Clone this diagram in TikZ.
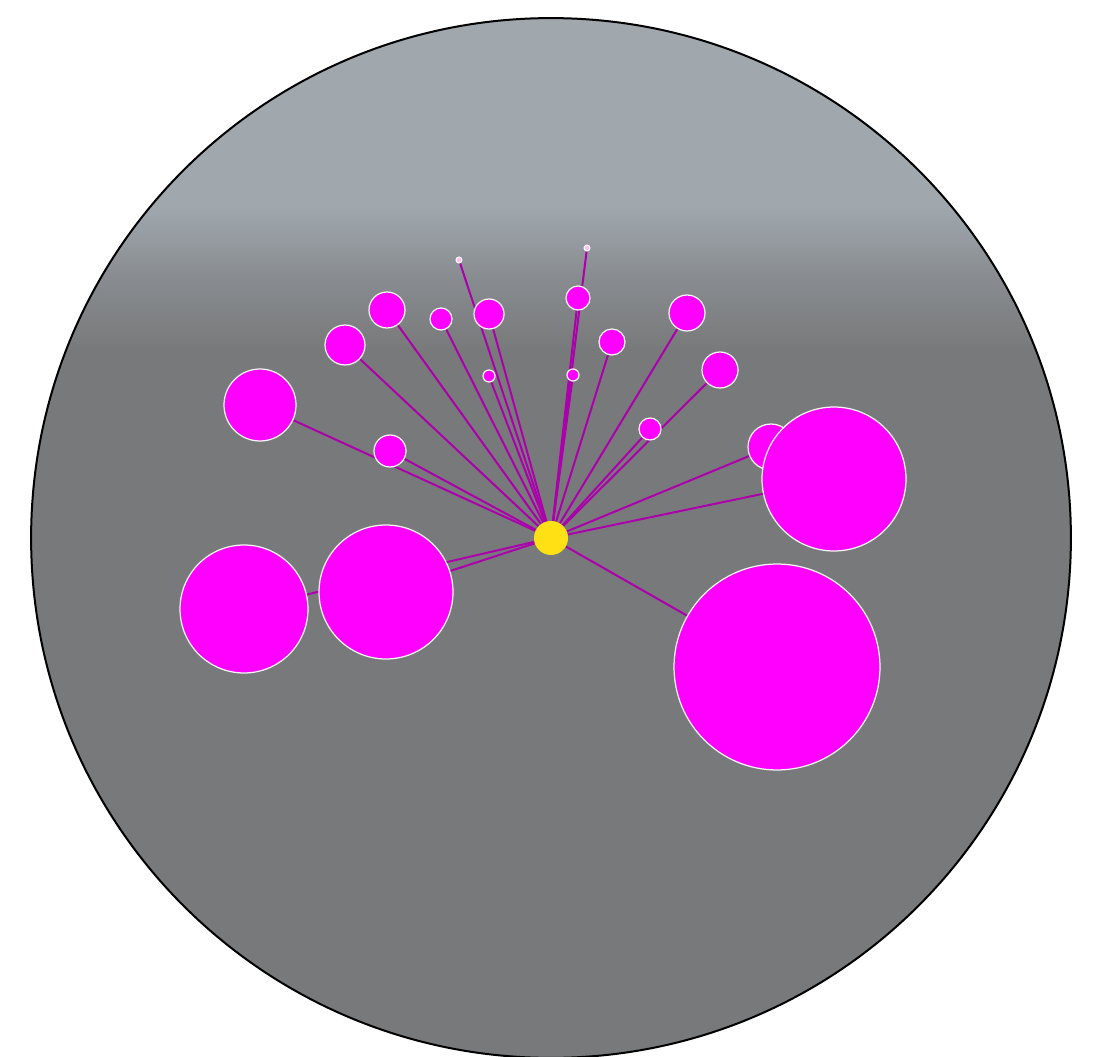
\documentclass[tikz,border=0pt]{standalone}
\usepackage{xcolor}
\usepackage{tikz}
\usetikzlibrary{shapes,positioning,calc}

\definecolor{skylight}{RGB}{160,168,174}
\definecolor{skymid}{RGB}{136,140,144}
\definecolor{skydark}{RGB}{120,121,122}
\definecolor{hubyellow}{RGB}{255,224,20}
\definecolor{linkpurple}{RGB}{172,0,172}
\definecolor{bubblepink}{RGB}{255,0,255}

\pgfdeclareverticalshading{skyfade}{100bp}{color(0bp)=(skydark); color(59bp)=(skydark); color(62.5bp)=(skymid); color(66bp)=(skylight); color(100bp)=(skylight)}

\pgfdeclarelayer{disk}
\pgfdeclarelayer{links}
\pgfsetlayers{disk,links,main}

\begin{document}
\begin{tikzpicture}[
  x=0.02cm,y=-0.02cm,
  bubble/.style={circle,fill=bubblepink,draw=white!92!gray,line width=0.25mm,inner sep=0pt,minimum size=#1*0.4mm},
  speck/.style={circle,fill=bubblepink!25,draw=white,line width=0.2mm,inner sep=0pt,minimum size=1.2mm},
  hub/.style={circle,fill=hubyellow,inner sep=0pt,minimum size=6.8mm},
  link/.style={draw=linkpurple,line width=0.4mm}
]
\useasboundingbox (0,0) rectangle (1109,1057);

% background disk
\begin{pgfonlayer}{disk}
\path[draw=black,line width=0.4mm,shading=skyfade] (551,538) circle (104mm);
\end{pgfonlayer}

\node[hub] (centre) at (551,538) {};

\node[bubble=36] (w1) at (260,405) {};
\node[bubble=20] (w2) at (345,345) {};
\node[bubble=18] (w3) at (387,310) {};
\node[bubble=11] (w4) at (441,319) {};
\node[bubble=15] (w5) at (489,314) {};
\node[bubble=6] (w6) at (489,376) {};
\node[speck] (w7) at (459,260) {};
\node[bubble=12] (e1) at (578,298) {};
\node[bubble=6] (e2) at (573,375) {};
\node[speck] (e3) at (587,248) {};
\node[bubble=13] (e4) at (612,342) {};
\node[bubble=18] (e5) at (687,313) {};
\node[bubble=18] (e6) at (720,370) {};
\node[bubble=11] (e7) at (650,429) {};
\node[bubble=16] (w8) at (390,451) {};
\node[bubble=23] (e8) at (771,447) {};
\node[bubble=72] (e9) at (834,479) {};
\node[bubble=103] (s1) at (777,667) {};
\node[bubble=67] (s2) at (386,592) {};
\node[bubble=64] (s3) at (244,609) {};

% links from the centre
\begin{pgfonlayer}{links}
\draw[link] (centre) -- (w1);
\draw[link] (centre) -- (w2);
\draw[link] (centre) -- (w3);
\draw[link] (centre) -- (w4);
\draw[link] (centre) -- (w5);
\draw[link] (centre) -- (w6);
\draw[link] (centre) -- (w7);
\draw[link] (centre) -- (w8);
\draw[link] (centre) -- (e1);
\draw[link] (centre) -- (e2);
\draw[link] (centre) -- (e3);
\draw[link] (centre) -- (e4);
\draw[link] (centre) -- (e5);
\draw[link] (centre) -- (e6);
\draw[link] (centre) -- (e7);
\draw[link] (centre) -- (e8);
\draw[link] (centre) -- (e9);
\draw[link] (centre) -- (s1);
\draw[link] (centre) -- (s2);
\draw[link] (centre) -- (s3);
\end{pgfonlayer}
\end{tikzpicture}
\end{document}
